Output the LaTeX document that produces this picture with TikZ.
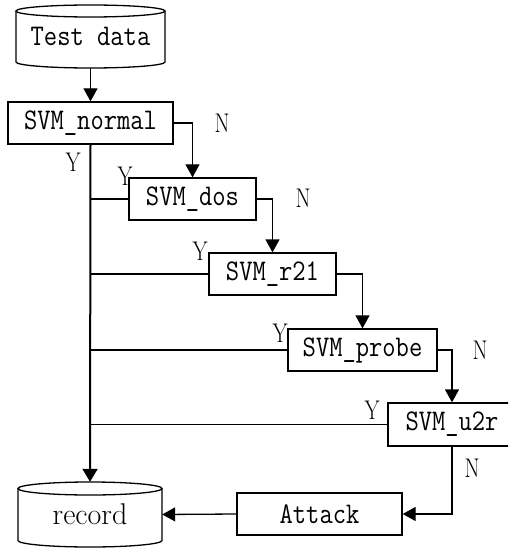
\documentclass[tikz,border=0pt]{standalone}
\usetikzlibrary{arrows.meta}
\newcommand{\bt}[1]{\scalebox{0.86}[1]{\fontsize{30}{32}\selectfont\ttfamily #1}}
\newcommand{\lb}[1]{\scalebox{0.8}[1]{\fontsize{27}{29}\selectfont #1}}
\begin{document}
\begin{tikzpicture}[x=1pt,y=-1pt,
  svmbox/.style={draw,line width=1.3pt,rectangle,inner sep=0pt,minimum height=42pt},
  cylbody/.style={rectangle,inner sep=0pt},
  conn/.style={line width=1.3pt,-{Triangle[length=13pt,width=14pt]}},
  mainline/.style={line width=2pt,-{Triangle[length=13pt,width=15pt]}},
  yline/.style={line width=1.4pt},
  lbl/.style={inner sep=0pt}]
\clip (0,0) rectangle (508,548);
\fill[white] (0,0) rectangle (508,548);

% cylinders
\node[cylbody,minimum width=149pt,minimum height=63pt] (td) at (90.5,36.5) {\bt{Test data}};
\draw[line width=1.3pt] (16,11) -- (16,62) arc (180:360:74.5pt and 6pt) -- (165,11);
\draw[line width=1.3pt] (90.5,11) ellipse (74.5pt and 6pt);

\node[cylbody,minimum width=144pt,minimum height=65pt,font=\fontsize{30}{32}\selectfont] (rec) at (90,514.5) {record};
\draw[line width=1.3pt] (18,488.5) -- (18,540.5) arc (180:360:72pt and 6.5pt) -- (162,488.5);
\draw[line width=1.3pt] (90,488.5) ellipse (72pt and 6.5pt);

% boxes
\node[svmbox,minimum width=165pt] (nor) at (90.5,123) {\bt{SVM\_normal}};
\node[svmbox,minimum width=127pt] (dos) at (192.5,199) {\bt{SVM\_dos}};
\node[svmbox,minimum width=127pt] (r21) at (272.5,274) {\bt{SVM\_r21}};
\node[svmbox,minimum width=149pt] (prb) at (362.5,350) {\bt{SVM\_probe}};
\node[svmbox,minimum width=128pt,minimum height=43pt] (u2r) at (452,424.5) {\bt{SVM\_u2r}};
\node[svmbox,minimum width=165pt] (att) at (319.5,514) {\bt{Attack}};

% connectors
\draw[conn] (td.south) -- (nor.north);
\draw[conn] (nor.east) -| (dos.north);
\draw[conn] (dos.east) -| (r21.north);
\draw[conn] (r21.east) -| (prb.north);
\draw[conn] (prb.east) -| (u2r.north);
\coordinate (turn) at (u2r.south |- att.east);
\draw[conn] (u2r.south) -- (turn) -- (att.east);
\draw[conn] (att.west) -- (rec.east);
\draw[mainline] (nor.south) -- (rec.north);
\draw[yline] (nor.south |- dos.west) -- (dos.west);
\draw[yline] (nor.south |- r21.west) -- (r21.west);
\draw[yline] (nor.south |- prb.west) -- (prb.west);
\draw[yline] (nor.south |- u2r.west) -- (u2r.west);

% labels
\node[lbl] (n1) at (222,123) {\lb{N}};
\node[lbl] (y1) at (73,162) {\lb{Y}};
\node[lbl] (y2) at (125,176) {\lb{Y}};
\node[lbl] (n2) at (303,198) {\lb{N}};
\node[lbl] (y3) at (200,251) {\lb{Y}};
\node[lbl] (y4) at (280,333) {\lb{Y}};
\node[lbl] (n4) at (480,350) {\lb{N}};
\node[lbl] (y5) at (372,410) {\lb{Y}};
\node[lbl] (n5) at (472,468) {\lb{N}};
\end{tikzpicture}
\end{document}
